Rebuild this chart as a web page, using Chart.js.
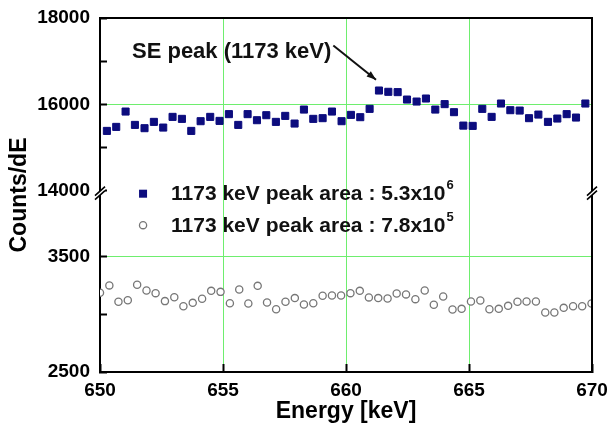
<!DOCTYPE html>
<html>
<head>
<meta charset="utf-8">
<script src="https://cdn.jsdelivr.net/npm/chart.js@4.4.1/dist/chart.umd.min.js"></script>
<style>
  html, body { margin: 0; padding: 0; background: #fff; }
  #wrap { width: 610px; height: 427px; }
</style>
</head>
<body>
<div id="wrap"><canvas id="chartCanvas" width="610" height="427"></canvas></div>
<script>
// SE peak region, 1173 keV peak area 5.3x10^6 (filled squares)
const seEnergy = [650.28, 650.66, 651.04, 651.42, 651.81, 652.19, 652.57, 652.95, 653.33, 653.71,
  654.09, 654.48, 654.86, 655.24, 655.62, 656.00, 656.38, 656.76, 657.15, 657.53,
  657.91, 658.29, 658.67, 659.05, 659.43, 659.82, 660.20, 660.58, 660.96, 661.34,
  661.72, 662.10, 662.48, 662.87, 663.25, 663.63, 664.01, 664.39, 664.77, 665.15,
  665.54, 665.92, 666.30, 666.68, 667.06, 667.44, 667.82, 668.21, 668.59, 668.97,
  669.35, 669.73];
const seCounts = [15385, 15478, 15833, 15524, 15448, 15594, 15462, 15710, 15664, 15385,
  15610, 15710, 15617, 15773, 15524, 15773, 15633, 15749, 15594, 15733,
  15555, 15879, 15664, 15680, 15833, 15610, 15756, 15703, 15896, 16320,
  16290, 16283, 16111, 16065, 16135, 15879, 16005, 15819, 15508, 15501,
  15896, 15710, 16019, 15865, 15856, 15680, 15763, 15594, 15671, 15773,
  15694, 16019];

// 1173 keV peak area 7.8x10^5 (open circles)
const refEnergy = [650.00, 650.38, 650.75, 651.13, 651.51, 651.89, 652.26, 652.64, 653.02, 653.39,
  653.77, 654.15, 654.52, 654.90, 655.28, 655.66, 656.03, 656.41, 656.79, 657.16,
  657.54, 657.92, 658.29, 658.67, 659.05, 659.43, 659.80, 660.18, 660.56, 660.93,
  661.31, 661.69, 662.06, 662.44, 662.82, 663.20, 663.57, 663.95, 664.33, 664.70,
  665.08, 665.46, 665.83, 666.21, 666.59, 666.97, 667.34, 667.72, 668.10, 668.47,
  668.85, 669.23, 669.60, 669.98];
const refCounts = [3185, 3249, 3107, 3121, 3254, 3205, 3182, 3113, 3147, 3069,
  3098, 3133, 3202, 3193, 3095, 3214, 3093, 3245, 3101, 3043,
  3107, 3139, 3084, 3095, 3159, 3162, 3162, 3182, 3202, 3145,
  3139, 3136, 3179, 3171, 3130, 3205, 3081, 3153, 3041, 3046,
  3110, 3119, 3043, 3046, 3072, 3107, 3110, 3110, 3015, 3015,
  3055, 3069, 3069, 3093];

const xTicks = [650, 655, 660, 665, 670];
const upperTicks = [14000, 15000, 16000, 17000, 18000];
const upperLabelled = [14000, 16000, 18000];
const lowerTicks = [2500, 3000, 3500];
const lowerLabelled = [2500, 3500];
const seriesLabels = ['1173 keV peak area : 5.3x10', '1173 keV peak area : 7.8x10'];
const seriesExponents = ['6', '5'];

const green = '#6eee6e';
const navy = '#0c0c7e';
Chart.defaults.font.family = "'Liberation Sans', Arial, sans-serif";
Chart.defaults.color = '#000';

const tickFont = { size: 19, weight: 'bold' };

function fixTicks(values) {
  return scale => { scale.ticks = values.map(v => ({ value: v })); };
}
// keep the plot area where the layout padding puts it
function fitY(scale) {
  scale.width = 100;
  scale.paddingTop = 0;
  scale.paddingBottom = 0;
}
function fitX(scale) {
  scale.height = 55;
  scale.paddingLeft = 0;
  scale.paddingRight = 0;
}

const decor = {
  id: 'decor',
  afterDraw(chart) {
    const { ctx, chartArea: a, scales } = chart;
    const xs = scales.x, yt = scales.yTop, yb = scales.yBot;
    ctx.save();

    // frame top and right
    ctx.strokeStyle = '#000';
    ctx.lineWidth = 2;
    ctx.beginPath();
    ctx.moveTo(a.left - 1, a.top);
    ctx.lineTo(a.right, a.top);
    ctx.lineTo(a.right, a.bottom + 1);
    ctx.stroke();

    // axis break marks
    const by = yt.bottom;
    [a.left, a.right].forEach(x => {
      ctx.fillStyle = '#fff';
      ctx.beginPath();
      ctx.moveTo(x - 5, by + 5);
      ctx.lineTo(x + 5, by - 4);
      ctx.lineTo(x + 5, by);
      ctx.lineTo(x - 5, by + 9);
      ctx.closePath();
      ctx.fill();
      ctx.strokeStyle = '#000';
      ctx.lineWidth = 1.6;
      ctx.beginPath();
      ctx.moveTo(x - 5, by + 5); ctx.lineTo(x + 5, by - 4);
      ctx.moveTo(x - 5, by + 9); ctx.lineTo(x + 5, by);
      ctx.stroke();
    });

    // legend
    const mx = xs.getPixelForValue(651.75);
    const rows = [by + 3, yb.getPixelForValue(3770)];
    ctx.textBaseline = 'middle';
    rows.forEach((ry, i) => {
      if (i === 0) {
        ctx.fillStyle = navy;
        ctx.fillRect(mx - 4, ry - 4, 8, 8);
      } else {
        ctx.strokeStyle = '#777';
        ctx.lineWidth = 1.3;
        ctx.beginPath();
        ctx.arc(mx, ry, 3.6, 0, Math.PI * 2);
        ctx.stroke();
      }
      ctx.fillStyle = '#111';
      ctx.font = "bold 21px 'Liberation Sans', Arial, sans-serif";
      ctx.textAlign = 'left';
      const tx = mx + 28;
      ctx.fillText(seriesLabels[i], tx, ry + 1);
      const w = ctx.measureText(seriesLabels[i]).width;
      ctx.font = "bold 13px 'Liberation Sans', Arial, sans-serif";
      ctx.fillText(seriesExponents[i], tx + w + 1, ry - 8);
    });

    // annotation
    const ax = xs.getPixelForValue(651.3);
    const ay = yt.getPixelForValue(17225);
    ctx.font = "bold 22px 'Liberation Sans', Arial, sans-serif";
    ctx.fillStyle = '#111';
    ctx.fillText('SE peak (1173 keV)', ax, ay);
    const ex = ax + ctx.measureText('SE peak (1173 keV)').width + 2;
    const tipX = xs.getPixelForValue(661.22), tipY = yt.getPixelForValue(16570);
    ctx.strokeStyle = '#111';
    ctx.lineWidth = 2;
    ctx.beginPath();
    ctx.moveTo(ex, ay - 6);
    ctx.lineTo(tipX, tipY);
    ctx.stroke();
    const ang = Math.atan2(tipY - (ay - 6), tipX - ex);
    ctx.fillStyle = '#111';
    ctx.beginPath();
    ctx.moveTo(tipX, tipY);
    ctx.lineTo(tipX - 10 * Math.cos(ang - 0.35), tipY - 10 * Math.sin(ang - 0.35));
    ctx.lineTo(tipX - 10 * Math.cos(ang + 0.35), tipY - 10 * Math.sin(ang + 0.35));
    ctx.closePath();
    ctx.fill();

    // y title
    ctx.save();
    ctx.translate(20, (a.top + a.bottom) / 2);
    ctx.rotate(-Math.PI / 2);
    ctx.textAlign = 'center';
    ctx.font = "bold 23px 'Liberation Sans', Arial, sans-serif";
    ctx.fillStyle = '#000';
    ctx.fillText('Counts/dE', 0, 0);
    ctx.restore();

    ctx.restore();
  }
};

const ctx = document.getElementById('chartCanvas').getContext('2d');
new Chart(ctx, {
  type: 'scatter',
  data: {
    datasets: [{
      label: seriesLabels[0],
      data: seEnergy.map((e, i) => ({ x: e, y: seCounts[i] })),
      yAxisID: 'yTop',
      pointStyle: 'rect',
      pointRadius: 5,
      backgroundColor: navy,
      borderColor: navy,
      borderWidth: 1
    }, {
      label: seriesLabels[1],
      data: refEnergy.map((e, i) => ({ x: e, y: refCounts[i] })),
      yAxisID: 'yBot',
      pointStyle: 'circle',
      pointRadius: 3.6,
      backgroundColor: '#fff',
      borderColor: '#777',
      borderWidth: 1.3
    }]
  },
  options: {
    responsive: false,
    animation: false,
    devicePixelRatio: 1,
    layout: { padding: { left: 0, top: 18, right: 18, bottom: 0 } },
    plugins: { legend: { display: false }, tooltip: { enabled: false } },
    scales: {
      x: {
        type: 'linear', min: 650, max: 670,
        afterBuildTicks: fixTicks(xTicks),
        afterFit: fitX,
        grid: {
          color: c => (c.tick && c.tick.value > 650 && c.tick.value < 670) ? green : 'transparent',
          lineWidth: 1, tickColor: '#000', tickWidth: 2, tickLength: -8
        },
        border: { color: '#000', width: 2 },
        ticks: { font: tickFont, color: '#000', padding: 15, maxRotation: 0, autoSkip: false, callback: v => String(v) },
        title: { display: true, text: 'Energy [keV]', font: { size: 23, weight: 'bold' }, color: '#000', padding: { top: 0, bottom: 2 } }
      },
      yBot: {
        type: 'linear', position: 'left', stack: 'counts', stackWeight: 181.3,
        min: 2500, max: 4068,
        afterBuildTicks: fixTicks(lowerTicks),
        afterFit: fitY,
        grid: {
          color: c => (c.tick && c.tick.value === 3500) ? green : 'transparent',
          lineWidth: 1, tickColor: '#000', tickWidth: 2, tickLength: -7
        },
        border: { color: '#000', width: 2 },
        ticks: { font: tickFont, color: '#000', padding: 17, autoSkip: false,
          callback: v => lowerLabelled.includes(v) ? String(v) : '' }
      },
      yTop: {
        type: 'linear', position: 'left', stack: 'counts', stackWeight: 172.7,
        min: 14000, max: 18000,
        afterBuildTicks: fixTicks(upperTicks),
        afterFit: fitY,
        grid: {
          color: c => (c.tick && c.tick.value === 16000) ? green : 'transparent',
          lineWidth: 1, tickColor: '#000', tickWidth: 2, tickLength: -7
        },
        border: { color: '#000', width: 2 },
        ticks: { font: tickFont, color: '#000', padding: 17, autoSkip: false,
          callback: v => upperLabelled.includes(v) ? String(v) : '' }
      }
    }
  },
  plugins: [decor]
});
</script>
</body>
</html>
